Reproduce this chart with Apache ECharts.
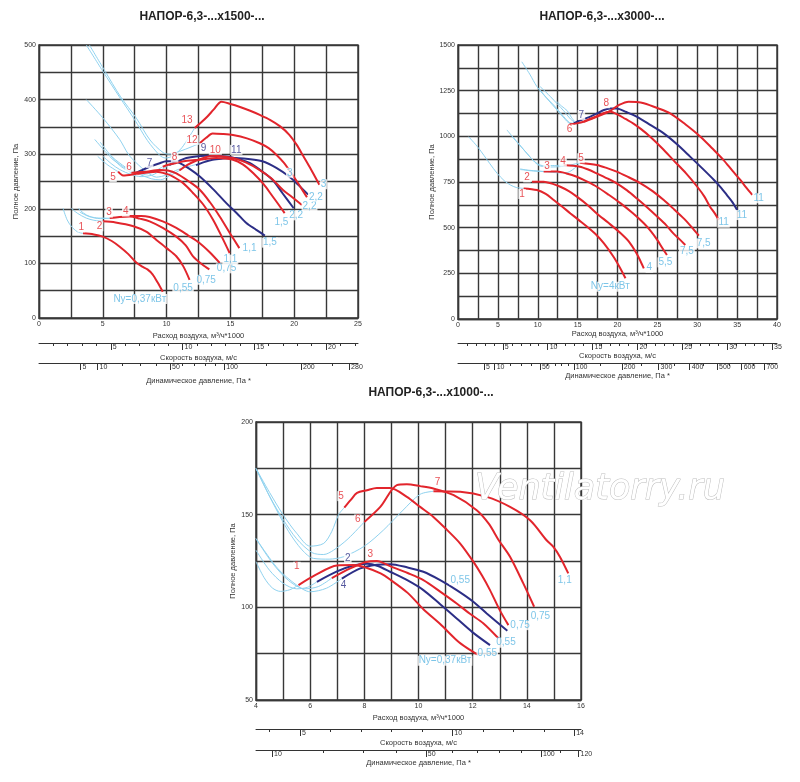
<!DOCTYPE html>
<html>
<head>
<meta charset="utf-8">
<script src="https://cdn.jsdelivr.net/npm/echarts@6/dist/echarts.min.js"></script>
<style>
  html, body { margin: 0; padding: 0; background: #fff; }
  #chart { width: 800px; height: 782px; }
</style>
</head>
<body>
<div id="chart"></div>
<script>
// Характеристики вентиляторов НАПОР-6,3 (x1500 / x3000 / x1000 об/мин)
// расход в тыс. м3/ч, давление в Па

// ---------- x1500 ----------
const a1500_1  = [[3.45,155],[4.3,153],[5.0,149],[5.7,141],[6.3,131],[7.0,117],[7.6,102],[8.1,94],[8.5,89],[8.9,80],[9.3,65],[9.7,48]];
const a1500_2  = [[5.0,177],[6.0,175],[7.4,168],[8.4,158],[9.2,143],[10.0,128],[10.76,113],[11.3,95],[11.8,70]];
const a1500_3  = [[5.54,183],[6.3,185],[7.1,186],[7.9,182],[8.67,177],[9.7,165],[10.76,149],[11.5,133],[12.07,113],[12.8,98],[13.35,89]];
const a1500_4  = [[7.1,187],[8.0,187],[8.67,185],[9.7,177],[10.76,165],[11.7,151],[12.6,137],[13.4,120],[14.16,101]];
const a1500_5  = [[6.2,268],[6.6,261],[7.63,264],[8.6,267],[9.2,268],[10.0,264],[10.5,259],[11.3,247],[12.07,229],[12.9,207],[13.64,180],[14.3,150],[14.94,119]];
const a1500_6  = [[7.24,266],[7.8,267],[8.4,268],[9.46,271],[10.1,270],[10.76,265],[11.7,251],[12.6,235],[13.4,212],[14.16,186],[15.0,154],[15.7,128]];
const a1500_7  = [[7.5,265],[8.1,271],[8.67,277],[9.4,283],[9.98,287],[10.5,287],[11.0,284],[11.8,273],[12.6,259],[13.6,237],[14.7,210],[15.5,192],[16.25,174],[17.0,162],[17.7,151]];
const a1500_8  = [[9.7,277],[10.2,281],[10.76,284],[11.6,288],[12.6,290],[13.9,293],[15.2,290],[16.0,281],[16.8,265],[17.6,245],[18.3,223],[18.8,207],[19.25,192]];
const a1500_9  = [[10.2,280],[10.9,287],[11.55,293],[12.3,296],[13.1,297],[14.7,296],[15.7,291],[16.5,284],[17.4,270],[18.3,253],[19.1,228],[19.96,201]];
const a1500_10 = [[11.0,270],[11.6,280],[12.3,288],[13.0,294],[13.6,297],[14.4,296],[15.2,293],[16.2,285],[17.3,271],[18.2,256],[19.1,235],[19.8,222],[20.6,207]];
const a1500_11 = [[12.3,280],[13.0,286],[13.6,290],[14.4,292],[15.2,293],[16.4,291],[17.5,287],[18.6,275],[19.6,259],[20.4,242],[21.1,226]];
const a1500_12 = [[12.6,320],[13.1,330],[13.6,338],[14.4,337],[15.2,335],[16.3,329],[17.3,320],[18.0,311],[18.6,299],[19.2,284],[19.6,271],[20.1,254],[20.6,236],[21.0,221]];
const a1500_13 = [[12.2,348],[12.7,358],[13.2,369],[13.7,382],[14.3,396],[15.0,392],[15.7,387],[16.5,380],[17.3,372],[18.1,363],[18.9,351],[19.6,336],[20.2,317],[20.7,297],[21.2,277],[21.6,260],[21.97,244]];
// линии подключения (голубые)
const a1500_b1  = [[3.71,500],[5.0,452],[6.3,405],[7.5,363],[8.5,325],[9.46,298],[9.9,293],[10.5,297],[11.2,312],[12.2,348]];
const a1500_b2  = [[3.95,500],[5.1,455],[6.4,405],[7.63,366],[8.7,326],[9.72,303],[10.2,300],[11.0,305],[12.0,314],[12.6,320]];
const a1500_b3  = [[3.71,400],[5.02,366],[6.32,327],[7.0,300],[7.63,284],[8.42,268],[9.2,258],[10.0,262],[10.9,272],[12.3,281]];
const a1500_b4  = [[4.37,327],[5.3,302],[5.8,290],[6.8,274],[7.37,268],[8.0,262],[8.8,255],[9.5,253],[10.2,260],[11.0,270]];
const a1500_b5  = [[5.02,296],[5.7,282],[6.32,272],[7.2,263],[8.0,259],[8.9,262],[9.5,270],[10.2,280]];
const a1500_b6  = [[5.54,299],[6.2,286],[6.85,275],[7.5,265]];
const a1500_b7  = [[4.8,322],[5.6,298],[6.4,278],[7.24,266]];
const a1500_b8  = [[4.6,296],[5.4,280],[6.2,268]];
const a1500_b9  = [[8.0,262],[8.8,266],[9.7,277]];
const a1500_b10 = [[1.88,201],[2.2,180],[2.53,168],[3.0,158],[3.45,155]];
const a1500_b11 = [[2.53,201],[3.0,192],[3.7,183],[4.3,179],[5.0,177]];
const a1500_b12 = [[3.06,201],[3.5,192],[3.97,186],[4.7,183],[5.54,183]];
const a1500_b13 = [[3.2,194],[3.9,186],[4.8,182],[6.0,184],[7.1,187]];
// подписи
const a1500_redTags  = [[3.32,166,'1'],[4.75,168,'2'],[5.49,193,'3'],[6.8,195,'4'],[5.8,258,'5'],[7.05,277,'6'],[10.63,294,'8'],[13.82,308,'10'],[12.0,326,'12'],[11.6,362,'13']];
const a1500_navyTags = [[8.67,284,'7'],[12.9,311,'9'],[15.46,308,'11']];
const a1500_blueTags = [[7.9,35,'Ny=0,37кВт'],[11.29,55,'0,55'],[13.1,70,'0,75'],[14.7,91,'0,75'],[15.0,107,'1,1'],[16.5,128,'1,1'],[18.1,138,'1,5'],[19.0,176,'1,5'],[20.15,188,'2,2'],[21.2,205,'2,2'],[21.7,222,'2,2'],[19.65,266,'3'],[22.3,245,'3']];

// ---------- x3000 ----------
const a3000_1 = [[8.23,715],[9.9,706],[11.0,685],[12.0,651],[13.0,617],[14.1,578],[15.2,540],[16.2,505],[17.3,463],[18.3,414],[19.5,341],[20.36,277],[21.0,223]];
const a3000_2 = [[9.28,752],[10.74,752],[11.8,741],[12.83,724],[13.9,700],[14.9,670],[16.2,626],[17.4,578],[18.9,525],[20.4,469],[21.5,420],[22.4,359],[22.9,315],[23.3,277]];
const a3000_3 = [[10.74,807],[12.4,807],[13.6,797],[14.9,779],[16.2,752],[17.4,724],[18.9,680],[20.4,633],[21.9,580],[23.3,524],[24.2,480],[25.0,432],[25.6,390],[26.2,350]];
const a3000_4 = [[13.25,843],[15.3,834],[16.4,817],[17.4,797],[18.7,770],[19.9,743],[21.2,704],[22.4,661],[23.7,612],[25.0,560],[26.1,514],[27.0,469],[27.8,436],[28.5,405]];
const a3000_5 = [[15.3,856],[17.4,843],[18.7,826],[19.9,807],[21.4,776],[22.9,743],[24.4,700],[25.8,651],[27.1,600],[28.3,551],[29.3,503],[30.2,456]];
const a3000_6 = [[14.0,1066],[14.9,1071],[15.75,1080],[16.6,1097],[17.4,1110],[18.3,1128],[19.1,1135],[20.0,1120],[21.0,1095],[22.0,1070],[23.0,1038],[24.1,998],[25.6,935],[27.0,870],[28.6,797],[30.0,724],[30.9,670],[31.6,615],[32.2,578],[32.7,542]];
const a3000_7 = [[14.5,1071],[15.5,1090],[16.6,1108],[17.5,1127],[18.3,1144],[19.1,1152],[19.9,1153],[21.1,1133],[22.4,1108],[24.1,1063],[25.8,1016],[27.5,955],[29.1,889],[30.6,826],[32.1,761],[33.0,718],[33.7,679],[34.4,640],[35.0,597]];
const a3000_8 = [[15.8,1080],[17.0,1100],[18.0,1118],[19.1,1140],[20.2,1172],[21.4,1190],[22.4,1188],[23.3,1181],[25.0,1155],[26.6,1126],[28.5,1066],[30.4,998],[31.9,933],[33.3,870],[34.4,812],[35.4,761],[36.2,716],[36.9,679]];
const a3000_b1  = [[1.33,998],[2.5,940],[4.0,850],[4.9,798],[5.8,757],[6.56,734],[7.3,720],[8.23,715]];
const a3000_b2  = [[6.14,1035],[7.4,968],[8.65,907],[9.6,860],[10.3,838],[11.6,832],[13.0,835],[14.3,845],[15.3,856]];
const a3000_b3  = [[6.8,1000],[7.9,945],[8.9,893],[9.8,855],[10.6,840],[11.9,840],[13.25,843]];
const a3000_b4  = [[7.8,822],[9.0,812],[10.74,807]];
const a3000_b5  = [[7.8,818],[9.5,812],[11.2,806],[12.6,800],[13.7,802],[14.6,825],[15.3,856]];
const a3000_b6  = [[8.0,1408],[9.0,1340],[9.9,1272],[11.0,1215],[12.0,1171],[13.25,1108],[14.0,1075],[14.5,1071]];
const a3000_b7  = [[10.3,1272],[11.0,1243],[11.6,1217],[12.5,1175],[13.25,1140],[14.1,1095],[14.6,1078]];
const a3000_b8  = [[12.4,1190],[13.0,1165],[13.7,1140],[14.2,1105],[14.6,1082]];
const a3000_b9  = [[10.1,1265],[11.2,1205],[12.4,1145],[13.3,1100],[14.0,1072],[15.0,1070],[15.8,1080]];
const a3000_redTags  = [[8.03,684,'1'],[8.65,775,'2'],[11.16,838,'3'],[13.17,861,'4'],[15.42,880,'5'],[14.0,1038,'6'],[18.6,1181,'8']];
const a3000_navyTags = [[15.47,1117,'7']];
const a3000_blueTags = [[19.1,177,'Ny=4кВт'],[24.0,281,'4'],[26.0,310,'5,5'],[28.7,369,'7,5'],[30.8,414,'7,5'],[33.3,527,'11'],[35.6,569,'11'],[37.7,661,'11']];

// ---------- x1000 ----------
const a1000_1 = [[5.57,112],[6.2,117.5],[6.99,122.6],[7.6,122.8],[8.1,121.2],[8.6,118.3],[8.95,115],[9.6,107.8],[10.18,99],[10.8,91],[11.41,82.3],[11.8,78],[12.21,74.3]];
const a1000_2 = [[6.25,113.8],[6.99,119.4],[7.6,122.6],[8.1,123.5],[8.5,122.3],[8.95,119.2],[9.6,114.5],[10.18,109.3],[10.8,101.7],[11.41,94],[12.0,86.5],[12.64,79.6]];
const a1000_3 = [[6.8,115.8],[7.48,121],[8.03,124.3],[8.46,125],[8.95,122.2],[9.6,118.5],[10.18,114.7],[10.8,108.5],[11.41,102.1],[11.9,96.5],[12.4,91.3],[12.95,83.3]];
const a1000_4 = [[7.17,115.5],[7.85,121],[8.46,123],[8.95,123.3],[9.6,121.5],[10.18,119.2],[10.8,114.7],[11.41,109.3],[12.0,103.3],[12.52,96.7],[13.28,87.4]];
const a1000_5 = [[7.26,153.8],[7.5,158],[7.73,161.7],[8.1,163.2],[8.46,164.4],[8.95,164.4],[9.57,159.6],[10.06,154.2],[10.55,148.8],[11.05,141.8],[11.54,134.4],[12.03,124.5],[12.35,117],[12.64,109.3],[13.0,98.5],[13.32,90.4]];
const a1000_6 = [[8.0,146.1],[8.59,154.2],[9.2,165.9],[9.57,166.4],[10.06,165.4],[10.55,164.1],[11.3,160.5],[12.15,152.4],[12.6,145],[12.95,136.5],[13.38,127.3],[13.87,112.9],[14.27,100.3]];
const a1000_7 = [[10.55,162.6],[11.54,162.3],[12.52,159.6],[13.38,154.2],[14.12,147],[14.73,136.2],[14.98,132.6],[15.22,127.3],[15.53,118.3]];
const a1000_b1 = [[4,174.9],[4.5,162],[5.02,149.5],[5.5,140],[6.0,133],[6.5,134.5],[6.8,141],[7.05,150],[7.26,153.8]];
const a1000_b2 = [[4,174.9],[4.5,160],[5.02,147],[5.5,137],[6.07,129.5],[6.5,128.5],[6.86,130.8],[7.4,137],[8.0,146.1]];
const a1000_b3 = [[4,174.9],[4.6,157],[5.2,141],[5.7,131],[6.12,126.4],[6.7,126],[7.23,127.3],[8.0,133],[8.7,141.6],[9.4,152],[10.06,161],[10.55,162.6]];
const a1000_b4 = [[4,124.6],[4.3,116],[4.6,110.5],[4.9,108.6],[5.25,109.5],[5.57,112]];
const a1000_b5 = [[4,130.8],[4.5,120],[5.0,113],[5.5,110],[5.9,110.8],[6.25,113.8]];
const a1000_b6 = [[4,137.1],[4.6,124],[5.2,114.5],[5.8,110],[6.3,111.2],[6.8,115.8]];
const a1000_b7 = [[4,137.1],[4.8,121],[5.5,112],[6.0,108.4],[6.6,110.3],[7.17,115.5]];
const a1000_redTags  = [[5.51,121.9,'1'],[8.22,128.7,'3'],[7.14,160,'5'],[7.76,147.4,'6'],[10.7,167.7,'7']];
const a1000_navyTags = [[7.39,126.7,'2'],[7.23,112,'4']];
const a1000_blueTags = [[11.54,114.7,'0,55'],[13.75,90.4,'0,75'],[14.5,95.3,'0,75'],[15.4,114.7,'1,1'],[13.23,80.9,'0,55'],[12.54,75,'0,55'],[10.98,71.2,'Ny=0,37кВт']];

// ---------- доп. шкалы: скорость (м/с) и динамическое давление (Па) ----------
const vel1500Ticks  = [1,2,3,4,5,6,7,8,9,10,11,12,13,14,15,16,17,18,19,20,21,22];
const vel1500Labels = [5,10,15,20];
const pd1500Ticks   = [5,10,20,30,40,50,60,70,80,90,100,150,200,250,280];
const pd1500Labels  = [5,10,50,100,200,280];
const vel3000Ticks  = [1,2,3,4,5,6,7,8,9,10,11,12,13,14,15,16,17,18,19,20,21,22,23,24,25,26,27,28,29,30,31,32,33,34,35];
const vel3000Labels = [5,10,15,20,25,30,35];
const pd3000Ticks   = [5,10,20,30,40,50,60,70,80,90,100,150,200,250,300,350,400,450,500,550,600,650,700];
const pd3000Labels  = [5,10,50,100,200,300,400,500,600,700];
const vel1000Ticks  = [4,5,6,7,8,9,10,11,12,13,14];
const vel1000Labels = [5,10,14];
const pd1000Ticks   = [10,20,30,40,50,60,70,80,90,100,110,120];
const pd1000Labels  = [10,50,100,120];

const K = 1.125;            // тыс. м3/ч на 1 м/с
const RHO_HALF = 0.6;       // Па на (м/с)^2
const velToQ = v => v * K;
const pdToQ = p => K * Math.sqrt(p / RHO_HALF);

const RED = '#e2252c', NAVY = '#2c2e86', BLUE = '#8fd2ef', TAGBLUE = '#5cb7e2';
const GRIDC = '#383838', TXT = '#333';
const FONT = "'Liberation Sans', Arial, sans-serif";
const TAGFONT = "'Liberation Sans Narrow', 'Liberation Sans', Arial, sans-serif";

const charts = [
  { grid: {left: 39, top: 45, width: 319, height: 273},
    x: [0, 25, 2.5, 5], y: [0, 500, 50, 100],
    vT: vel1500Ticks, vL: vel1500Labels, pT: pd1500Ticks, pL: pd1500Labels,
    off: [25, 45], gaps: [14, 11, 14], yGap: 14,
    red: [a1500_1, a1500_2, a1500_3, a1500_4, a1500_5, a1500_6, a1500_8, a1500_10, a1500_12, a1500_13],
    navy: [a1500_7, a1500_9, a1500_11],
    blue: [a1500_b1, a1500_b2, a1500_b3, a1500_b4, a1500_b5, a1500_b6, a1500_b7, a1500_b8, a1500_b9, a1500_b10, a1500_b11, a1500_b12, a1500_b13],
    tags: [a1500_redTags, a1500_navyTags, a1500_blueTags] },
  { grid: {left: 458, top: 45, width: 319, height: 274},
    x: [0, 40, 2.5, 5], y: [0, 1500, 125, 250],
    vT: vel3000Ticks, vL: vel3000Labels, pT: pd3000Ticks, pL: pd3000Labels,
    off: [24, 44], gaps: [10, 7, 6], yGap: 17,
    red: [a3000_1, a3000_2, a3000_3, a3000_4, a3000_5, a3000_6, a3000_8],
    navy: [a3000_7],
    blue: [a3000_b1, a3000_b2, a3000_b3, a3000_b4, a3000_b5, a3000_b6, a3000_b7, a3000_b8, a3000_b9],
    tags: [a3000_redTags, a3000_navyTags, a3000_blueTags] },
  { grid: {left: 256, top: 422, width: 325, height: 278},
    x: [4, 16, 1, 2], y: [50, 200, 25, 50],
    vT: vel1000Ticks, vL: vel1000Labels, pT: pd1000Ticks, pL: pd1000Labels,
    off: [29, 50], gaps: [14, 10, 9], yGap: 14,
    red: [a1000_1, a1000_3, a1000_5, a1000_6, a1000_7],
    navy: [a1000_2, a1000_4],
    blue: [a1000_b1, a1000_b2, a1000_b3, a1000_b4, a1000_b5, a1000_b6, a1000_b7],
    tags: [a1000_redTags, a1000_navyTags, a1000_blueTags] }
];

const onStep = (v, s) => Math.abs(v / s - Math.round(v / s)) < 1e-6;
const small = {fontSize: 7, color: TXT, fontFamily: FONT};
const nameStyle = {fontSize: 7.5, color: TXT, fontFamily: FONT};

function scaleAxes(g, c, min, max) {
  const base = {gridIndex: g, type: 'value', min: min, max: max, position: 'bottom', splitLine: {show: false}};
  const minor = (ticks, labels, off, fmt, name, gap) => Object.assign({}, base, {
    offset: off,
    axisLine: {show: true, lineStyle: {color: TXT, width: 1}},
    axisTick: {show: true, customValues: ticks, length: 3, lineStyle: {color: TXT}},
    axisLabel: Object.assign({}, small, {customValues: labels, formatter: fmt, align: 'left', margin: 1, padding: [0, 0, 0, 2]}),
    name: name, nameLocation: 'middle', nameGap: gap, nameTextStyle: nameStyle
  });
  const major = (labels, off) => Object.assign({}, base, {
    offset: off,
    axisLine: {show: false},
    axisTick: {show: true, customValues: labels, length: 7, lineStyle: {color: TXT}},
    axisLabel: {show: false}
  });
  const vT = c.vT.map(velToQ), vL = c.vL.map(velToQ), pT = c.pT.map(pdToQ), pL = c.pL.map(pdToQ);
  return [
    minor(vT, vL, c.off[0], q => Math.round(q / K), 'Скорость воздуха, м/с', c.gaps[1]),
    major(vL, c.off[0]),
    minor(pT, pL, c.off[1], q => Math.round(RHO_HALF * Math.pow(q / K, 2)), 'Динамическое давление, Па *', c.gaps[2]),
    major(pL, c.off[1])
  ];
}

const grid = [], xAxis = [], yAxis = [], series = [];
charts.forEach((c, g) => {
  grid.push(Object.assign({show: true, borderColor: GRIDC, borderWidth: 1.4, backgroundColor: '#fff'}, c.grid));
  xAxis.push({
    gridIndex: g, type: 'value', min: c.x[0], max: c.x[1], interval: c.x[2],
    axisLine: {show: true, lineStyle: {color: GRIDC, width: 1.4}},
    axisTick: {show: false},
    splitLine: {show: true, lineStyle: {color: GRIDC, width: 1.4}},
    axisLabel: Object.assign({}, small, {margin: 3, formatter: v => onStep(v, c.x[3]) ? String(v) : ''}),
    name: 'Расход воздуха, м³/ч*1000', nameLocation: 'middle', nameGap: c.gaps[0], nameTextStyle: nameStyle
  });
  scaleAxes(g, c, c.x[0], c.x[1]).forEach(a => xAxis.push(a));
  yAxis.push({
    gridIndex: g, type: 'value', min: c.y[0], max: c.y[1], interval: c.y[2],
    axisLine: {show: true, lineStyle: {color: GRIDC, width: 1.4}},
    axisTick: {show: false},
    splitLine: {show: true, lineStyle: {color: GRIDC, width: 1.4}},
    axisLabel: Object.assign({}, small, {margin: 3, formatter: v => onStep(v, c.y[3]) ? String(v) : ''}),
    name: 'Полное давление, Па', nameLocation: 'middle', nameGap: c.yGap, nameTextStyle: nameStyle
  });
  const line = (data, color, width, z) => ({
    type: 'line', xAxisIndex: g * 5, yAxisIndex: g, data: data, symbol: 'none', smooth: 0.3,
    lineStyle: {color: color, width: width}, silent: true, z: z
  });
  c.blue.forEach(d => series.push(line(d, BLUE, 1, 3)));
  c.navy.forEach(d => series.push(line(d, NAVY, 2, 4)));
  c.red.forEach(d => series.push(line(d, RED, 2, 5)));
  [RED, NAVY, TAGBLUE].forEach((col, i) => {
    series.push({
      type: 'scatter', xAxisIndex: g * 5, yAxisIndex: g, silent: true, z: 10,
      symbolSize: 0.1, itemStyle: {color: 'rgba(0,0,0,0)'},
      data: c.tags[i].map(t => ({name: t[2], value: [t[0], t[1]]})),
      label: {show: true, position: 'inside', formatter: '{b}', color: col, fontSize: 10,
              fontFamily: TAGFONT, backgroundColor: '#fff', padding: [0, 1, 0, 1]}
    });
  });
});

const titleStyle = t => ({text: t, font: "bold 12px 'Liberation Sans', Arial, sans-serif", fill: '#222',
  align: 'center', verticalAlign: 'middle', textAlign: 'center', textVerticalAlign: 'middle'});

const chart = echarts.init(document.getElementById('chart'), null, {renderer: 'canvas'});
chart.setOption({
  animation: false,
  backgroundColor: '#fff',
  grid: grid,
  xAxis: xAxis,
  yAxis: yAxis,
  series: series,
  graphic: [
    {type: 'text', x: 202, y: 17, style: titleStyle('НАПОР-6,3-...x1500-...')},
    {type: 'text', x: 602, y: 17, style: titleStyle('НАПОР-6,3-...x3000-...')},
    {type: 'text', x: 431, y: 393, style: titleStyle('НАПОР-6,3-...x1000-...')},
    {type: 'text', x: 475, y: 490, z: 20, silent: true,
     style: {text: 'Ventilatorry.ru', font: "italic 35px 'DejaVu Sans', sans-serif",
             fill: '#fff', stroke: '#bdbdbd', lineWidth: 1,
             verticalAlign: 'middle', textVerticalAlign: 'middle'}}
  ]
});
</script>
</body>
</html>
